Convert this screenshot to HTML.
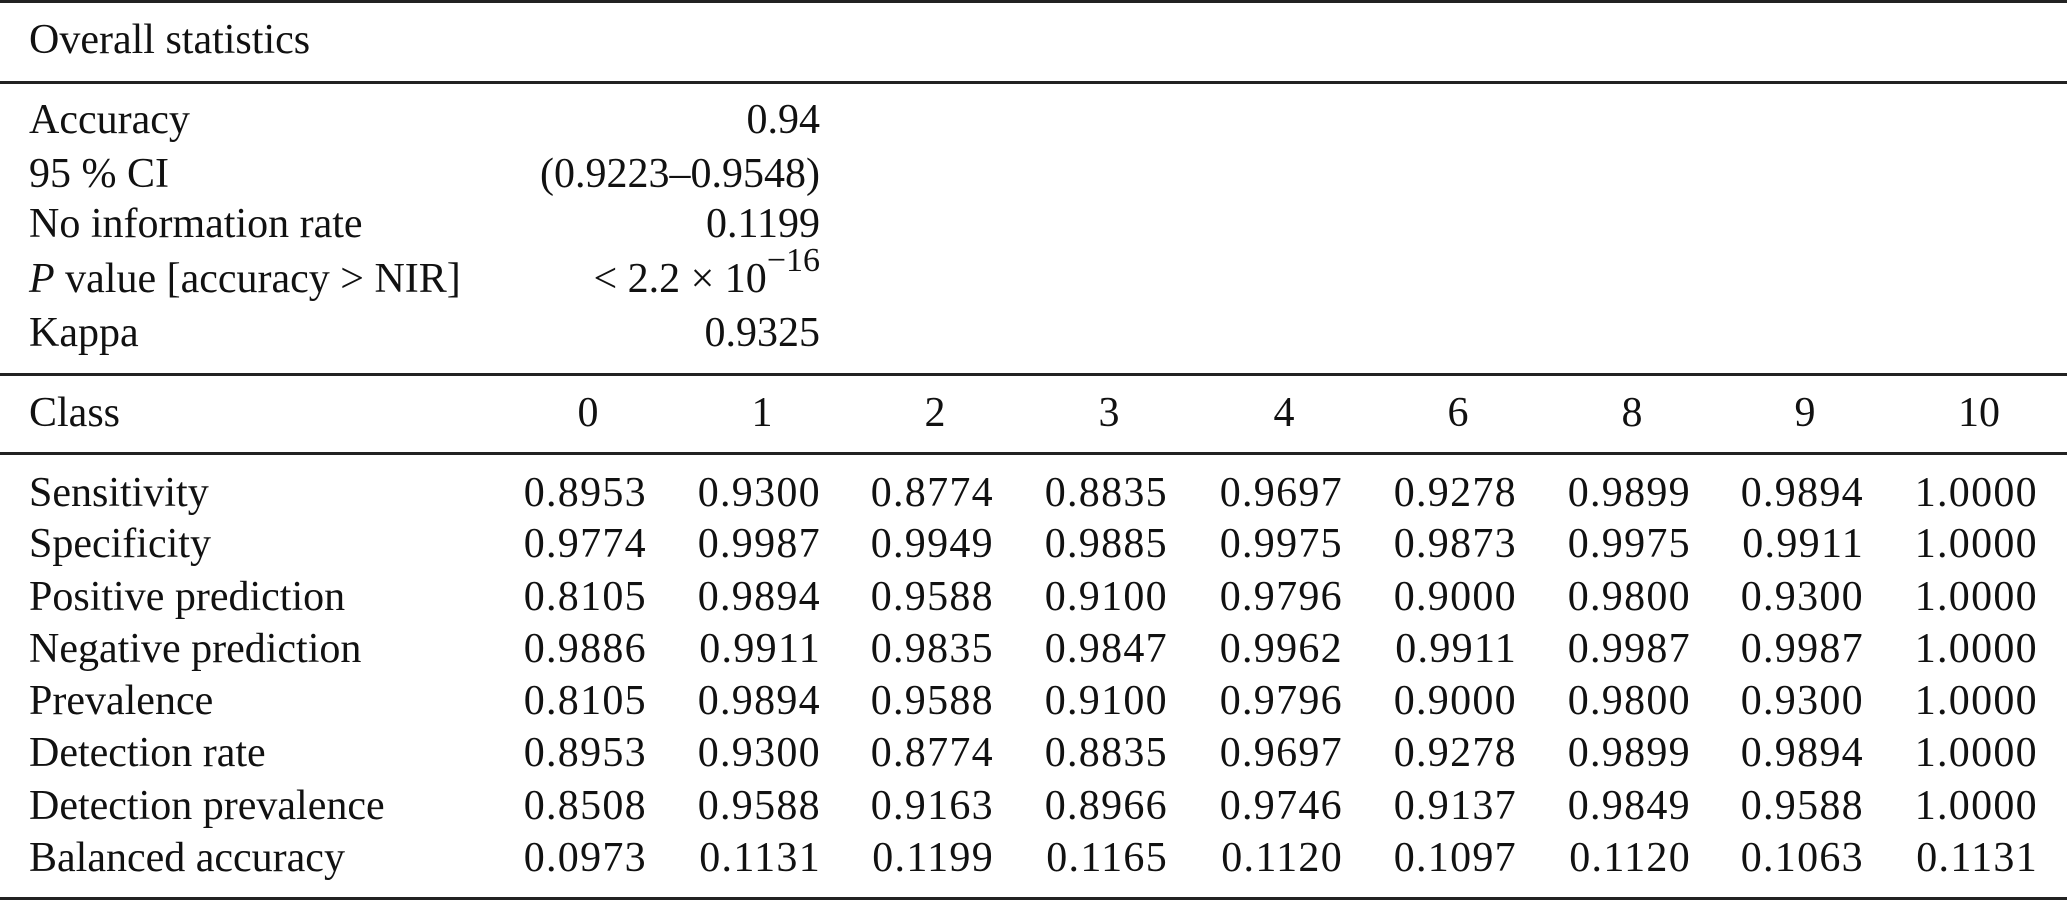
<!DOCTYPE html>
<html><head><meta charset="utf-8"><style>
html,body{margin:0;padding:0;background:#fff;}
body{width:2067px;height:901px;position:relative;overflow:hidden;font-family:"Liberation Serif",serif;font-size:42px;color:#111;}
.l{position:absolute;left:0;width:2067px;height:3px;background:#222;}
.t{position:absolute;height:50px;line-height:50px;white-space:nowrap;}
.n{position:absolute;height:50px;line-height:50px;white-space:nowrap;text-align:right;width:200px;letter-spacing:1.3px;}
.h{position:absolute;height:50px;line-height:50px;width:100px;text-align:center;}
</style></head><body>
<div class="l" style="top:0"></div>
<div class="l" style="top:81px"></div>
<div class="l" style="top:373px"></div>
<div class="l" style="top:452px"></div>
<div class="l" style="top:897px"></div>
<div class="t" style="left:29px;top:15px">Overall statistics</div>
<div class="t" style="left:29px;top:95px">Accuracy</div>
<div class="t" style="left:29px;top:149px">95 % CI</div>
<div class="t" style="left:29px;top:199px">No information rate</div>
<div class="t" style="left:29px;top:254px"><i>P</i> value [accuracy &gt; NIR]</div>
<div class="t" style="left:29px;top:308px">Kappa</div>
<div class="t" style="left:29px;top:388px">Class</div>
<div class="t" style="right:1247px;top:95px">0.94</div>
<div class="t" style="right:1247px;top:149px">(0.9223–0.9548)</div>
<div class="t" style="right:1247px;top:199px">0.1199</div>
<div class="t" style="right:1247px;top:254px">&lt; 2.2 × 10<sup style="font-size:34px;line-height:0;position:relative;top:-6px">−16</sup></div>
<div class="t" style="right:1247px;top:308px">0.9325</div>
<div id="body"></div>
<script>
var cols=[646,820,993,1167,1342,1516,1690,1863,2037];
var heads=["0","1","2","3","4","6","8","9","10"];
var h="";
heads.forEach(function(c,i){h+='<div class="h" style="left:'+(cols[i]-58-50)+'px;top:388px">'+c+'</div>';});
var rows=[
["Sensitivity","0.8953 0.9300 0.8774 0.8835 0.9697 0.9278 0.9899 0.9894 1.0000"],
["Specificity","0.9774 0.9987 0.9949 0.9885 0.9975 0.9873 0.9975 0.9911 1.0000"],
["Positive prediction","0.8105 0.9894 0.9588 0.9100 0.9796 0.9000 0.9800 0.9300 1.0000"],
["Negative prediction","0.9886 0.9911 0.9835 0.9847 0.9962 0.9911 0.9987 0.9987 1.0000"],
["Prevalence","0.8105 0.9894 0.9588 0.9100 0.9796 0.9000 0.9800 0.9300 1.0000"],
["Detection rate","0.8953 0.9300 0.8774 0.8835 0.9697 0.9278 0.9899 0.9894 1.0000"],
["Detection prevalence","0.8508 0.9588 0.9163 0.8966 0.9746 0.9137 0.9849 0.9588 1.0000"],
["Balanced accuracy","0.0973 0.1131 0.1199 0.1165 0.1120 0.1097 0.1120 0.1063 0.1131"]];
var ys=[493,544,597,649,701,753,806,858];
rows.forEach(function(r,j){
 var top=ys[j]-25;
 h+='<div class="t" style="left:29px;top:'+top+'px">'+r[0]+'</div>';
 r[1].split(" ").forEach(function(v,i){h+='<div class="n" style="left:'+(cols[i]-200+1)+'px;top:'+top+'px">'+v+'</div>';});
});
document.getElementById("body").innerHTML=h;
</script>
</body></html>
